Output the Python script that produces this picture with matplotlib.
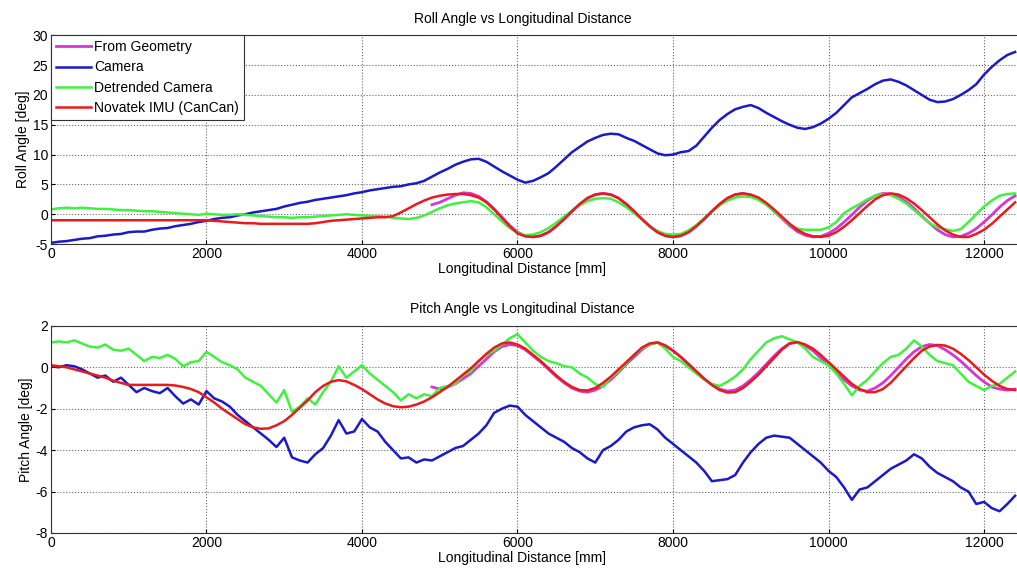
import matplotlib
matplotlib.use("Agg")
import matplotlib.pyplot as plt
import numpy as np

plt.rcParams['font.family'] = ['Liberation Sans', 'DejaVu Sans']
plt.rcParams['axes.unicode_minus'] = False

# distance grid (mm) for the sampled curves
distance = np.arange(0, 12500, 100)
distance_geom = np.arange(4900, 12500, 100)

# ---- Roll angle [deg] ----
roll_camera = [
    -4.8, -4.6, -4.5, -4.3, -4.1, -4.0, -3.7, -3.6, -3.4, -3.3,
    -3.0, -2.9, -2.9, -2.6, -2.4, -2.3, -2.0, -1.8, -1.6, -1.3,
    -1.1, -0.8, -0.6, -0.5, -0.2, 0.0, 0.3, 0.5, 0.7, 0.9,
    1.3, 1.6, 1.9, 2.1, 2.4, 2.6, 2.8, 3.0, 3.2, 3.5,
    3.7, 4.0, 4.2, 4.4, 4.6, 4.7, 5.0, 5.2, 5.6, 6.3,
    7.0, 7.6, 8.3, 8.8, 9.2, 9.3, 8.8, 8.0, 7.2, 6.5,
    5.8, 5.3, 5.6, 6.2, 6.9, 8.0, 9.2, 10.4, 11.3, 12.2,
    12.8, 13.3, 13.5, 13.4, 12.8, 12.3, 11.6, 10.9, 10.2, 9.9,
    10.0, 10.4, 10.6, 11.5, 13.0, 14.5, 15.8, 16.8, 17.6, 18.0,
    18.3, 17.8, 17.0, 16.3, 15.6, 15.0, 14.5, 14.3, 14.6, 15.2,
    16.0, 17.0, 18.3, 19.6, 20.3, 21.0, 21.8, 22.4, 22.6, 22.2,
    21.6, 20.8, 20.0, 19.2, 18.8, 18.9, 19.3, 20.0, 20.8, 21.8,
    23.4, 24.7, 25.8, 26.7, 27.2]
roll_detrended = [
    0.8, 1.0, 1.1, 1.0, 1.1, 1.0, 0.9, 0.9, 0.8, 0.7,
    0.7, 0.6, 0.5, 0.5, 0.4, 0.3, 0.2, 0.1, 0.0, -0.1,
    0.1, 0.0, -0.1, -0.1, 0.0, -0.1, -0.2, -0.3, -0.4, -0.5,
    -0.5, -0.6, -0.5, -0.5, -0.4, -0.3, -0.2, -0.1, 0.0, -0.1,
    -0.2, -0.3, -0.3, -0.4, -0.6, -0.7, -0.8, -0.6, -0.2, 0.4,
    1.0, 1.5, 1.8, 2.0, 2.2, 2.0, 1.2, 0.0, -1.2, -2.3,
    -3.1, -3.5, -3.4, -3.0, -2.3, -1.4, -0.4, 0.6, 1.5, 2.2,
    2.6, 2.7, 2.6, 2.0, 1.2, 0.2, -0.9, -2.0, -2.8, -3.3,
    -3.4, -3.3, -2.7, -1.8, -0.7, 0.4, 1.5, 2.3, 2.8, 3.0,
    2.9, 2.4, 1.6, 0.5, -0.6, -1.7, -2.4, -2.6, -2.6, -2.6,
    -2.2, -1.3, 0.2, 1.0, 1.7, 2.5, 3.1, 3.4, 3.2, 2.6,
    1.8, 0.7, -0.4, -1.5, -2.2, -2.5, -2.8, -2.5, -1.3, 0.0,
    1.3, 2.3, 3.1, 3.4, 3.5]
roll_imu = [
    -1.0, -1.0, -1.0, -1.0, -1.0, -1.0, -1.0, -1.0, -1.0, -1.0,
    -1.0, -1.0, -1.0, -1.0, -1.0, -1.0, -1.0, -1.0, -1.0, -1.0,
    -1.0, -1.1, -1.2, -1.3, -1.4, -1.5, -1.5, -1.6, -1.6, -1.6,
    -1.6, -1.6, -1.6, -1.6, -1.5, -1.3, -1.1, -1.0, -0.9, -0.8,
    -0.7, -0.6, -0.5, -0.5, -0.3, 0.3, 1.0, 1.7, 2.3, 2.8,
    3.1, 3.3, 3.4, 3.4, 3.2, 2.8, 2.0, 0.8, -0.6, -2.0,
    -3.2, -3.7, -3.8, -3.6, -3.0, -2.0, -0.8, 0.5, 1.7, 2.7,
    3.3, 3.5, 3.3, 2.7, 1.7, 0.5, -0.8, -2.0, -3.0, -3.6,
    -3.8, -3.6, -3.0, -2.0, -0.8, 0.5, 1.7, 2.7, 3.3, 3.5,
    3.3, 2.8, 1.9, 0.8, -0.4, -1.6, -2.6, -3.3, -3.7, -3.8,
    -3.6, -3.0, -2.1, -1.0, 0.2, 1.4, 2.5, 3.2, 3.5, 3.3,
    2.7, 1.8, 0.7, -0.5, -1.7, -2.7, -3.4, -3.8, -3.8, -3.3,
    -2.6, -1.6, -0.4, 0.8, 2.0]
roll_geometry = [
    1.6, 2.0, 2.6, 3.2, 3.6, 3.5, 3.0, 2.1, 0.9, -0.5,
    -1.9, -3.0, -3.6, -3.8, -3.6, -3.0, -2.0, -0.8, 0.5, 1.7,
    2.7, 3.3, 3.5, 3.3, 2.7, 1.7, 0.5, -0.8, -2.0, -3.0,
    -3.6, -3.8, -3.6, -3.0, -2.0, -0.8, 0.5, 1.7, 2.7, 3.3,
    3.5, 3.2, 2.6, 1.7, 0.5, -0.7, -1.9, -2.9, -3.5, -3.8,
    -3.7, -3.2, -2.4, -1.3, -0.1, 1.2, 2.3, 3.1, 3.5, 3.4,
    2.9, 2.1, 1.0, -0.3, -1.5, -2.6, -3.4, -3.8, -3.7, -3.2,
    -2.4, -1.3, -0.1, 1.2, 2.3, 3.1]

# ---- Pitch angle [deg] ----
pitch_camera = [
    0.05, 0.0, 0.1, 0.05, -0.1, -0.3, -0.5, -0.4, -0.7, -0.5,
    -0.85, -1.2, -1.0, -1.15, -1.25, -1.0, -1.4, -1.75, -1.55, -1.8,
    -1.15, -1.5, -1.65, -1.9, -2.3, -2.6, -2.9, -3.2, -3.5, -3.85,
    -3.4, -4.35, -4.5, -4.6, -4.2, -3.9, -3.3, -2.55, -3.2, -3.1,
    -2.5, -2.9, -3.1, -3.6, -4.0, -4.4, -4.35, -4.6, -4.45, -4.5,
    -4.3, -4.1, -3.9, -3.8, -3.5, -3.2, -2.8, -2.2, -2.0, -1.85,
    -1.9, -2.3, -2.6, -2.9, -3.2, -3.4, -3.6, -3.9, -4.1, -4.4,
    -4.6, -4.0, -3.8, -3.5, -3.1, -2.9, -2.8, -2.75, -3.0, -3.4,
    -3.7, -4.0, -4.3, -4.6, -5.0, -5.5, -5.45, -5.4, -5.2, -4.6,
    -4.1, -3.7, -3.4, -3.3, -3.35, -3.4, -3.7, -4.0, -4.3, -4.6,
    -5.0, -5.3, -5.8, -6.4, -5.9, -5.8, -5.5, -5.2, -4.9, -4.7,
    -4.5, -4.2, -4.4, -4.8, -5.1, -5.3, -5.5, -5.8, -6.0, -6.6,
    -6.5, -6.8, -6.95, -6.6, -6.2]
pitch_detrended = [
    1.2, 1.25, 1.2, 1.3, 1.15, 1.0, 0.95, 1.1, 0.85, 0.8,
    0.9, 0.6, 0.3, 0.5, 0.45, 0.6, 0.4, 0.05, 0.25, 0.3,
    0.75, 0.5, 0.25, 0.1, -0.1, -0.5, -0.7, -0.9, -1.3, -1.7,
    -1.1, -2.15, -1.9, -1.5, -1.8, -1.2, -0.7, 0.05, -0.5, -0.2,
    0.1, -0.3, -0.6, -0.9, -1.2, -1.6, -1.3, -1.5, -1.3, -1.4,
    -1.0, -0.9, -0.8, -0.4, -0.2, 0.3, 0.6, 0.8, 1.1, 1.4,
    1.6, 1.2, 0.8, 0.5, 0.3, 0.2, 0.05, 0.0, -0.3, -0.5,
    -0.8, -0.95, -0.5, -0.2, 0.2, 0.6, 0.9, 1.1, 1.2, 0.9,
    0.5, 0.3, 0.0, -0.3, -0.6, -0.8, -0.9, -0.7, -0.45, -0.1,
    0.4, 0.8, 1.2, 1.4, 1.5, 1.35, 1.2, 0.9, 0.5, 0.3,
    0.1, -0.3, -0.8, -1.35, -0.9, -0.6, -0.2, 0.2, 0.5, 0.6,
    0.9, 1.3, 1.0, 0.6, 0.3, 0.2, 0.1, -0.3, -0.7, -0.9,
    -1.1, -0.9, -0.8, -0.5, -0.2]
pitch_imu = [
    0.1, 0.05, 0.0, -0.1, -0.2, -0.3, -0.4, -0.5, -0.65, -0.75,
    -0.85, -0.85, -0.85, -0.85, -0.85, -0.85, -0.88, -0.95, -1.05, -1.2,
    -1.45, -1.7, -2.0, -2.25, -2.5, -2.75, -2.9, -2.97, -2.95, -2.8,
    -2.6, -2.3, -1.95, -1.6, -1.2, -0.9, -0.7, -0.62, -0.68, -0.85,
    -1.05, -1.3, -1.55, -1.75, -1.88, -1.93, -1.9, -1.8, -1.65, -1.45,
    -1.2, -0.95, -0.65, -0.35, -0.05, 0.3, 0.65, 0.95, 1.15, 1.2,
    1.1, 0.9, 0.6, 0.3, -0.05, -0.4, -0.7, -0.95, -1.1, -1.12,
    -1.0, -0.75, -0.45, -0.1, 0.25, 0.6, 0.95, 1.15, 1.2, 1.05,
    0.8, 0.5, 0.15, -0.2, -0.55, -0.85, -1.1, -1.22, -1.2, -1.0,
    -0.7, -0.35, 0.05, 0.45, 0.85, 1.15, 1.22, 1.1, 0.9, 0.6,
    0.25, -0.1, -0.45, -0.8, -1.05, -1.2, -1.2, -1.05, -0.75, -0.35,
    0.05, 0.45, 0.8, 1.0, 1.08, 1.05, 0.9, 0.65, 0.35, 0.0,
    -0.35, -0.65, -0.9, -1.05, -1.1]
pitch_geometry = [
    -0.95, -1.05, -0.95, -0.8, -0.55, -0.3, 0.05, 0.4, 0.75, 1.0,
    1.1, 1.05, 0.85, 0.55, 0.25, -0.1, -0.45, -0.75, -1.0, -1.15,
    -1.2, -1.1, -0.9, -0.6, -0.25, 0.15, 0.5, 0.85, 1.1, 1.2,
    1.05, 0.8, 0.5, 0.15, -0.2, -0.55, -0.85, -1.05, -1.15, -1.1,
    -0.9, -0.6, -0.25, 0.15, 0.55, 0.9, 1.15, 1.2, 1.05, 0.8,
    0.45, 0.1, -0.25, -0.6, -0.9, -1.1, -1.15, -1.0, -0.75, -0.4,
    0.0, 0.4, 0.75, 1.0, 1.1, 1.05, 0.85, 0.6, 0.3, -0.05,
    -0.4, -0.7, -0.95, -1.05, -1.1, -1.05]

legend_labels = ['From Geometry', 'Camera', 'Detrended Camera', 'Novatek IMU (CanCan)']
col_geom = (0.85, 0.2, 0.85)
col_cam = (0.1, 0.1, 0.8)
col_det = (0.25, 0.95, 0.25)
col_imu = (0.92, 0.1, 0.1)
fs = 10

fig = plt.figure(figsize=(10.17, 5.69), dpi=100)
ax1 = fig.add_axes([0.0501, 0.571, 0.9557, 0.367])
ax2 = fig.add_axes([0.0501, 0.0633, 0.9557, 0.364])

def style(ax, yticks, title, ylabel):
    ax.set_xlim(0, 12500)
    ax.set_ylim(yticks[0], yticks[-1])
    ax.set_xticks([0, 2000, 4000, 6000, 8000, 10000, 12000])
    ax.set_yticks(yticks)
    ax.grid(True, linestyle=':', color='#666666', linewidth=0.8)
    ax.tick_params(direction='in', labelsize=fs, length=3, pad=2)
    for s in ax.spines.values():
        s.set_color('#333333')
    ax.set_title(title, fontsize=fs, x=0.485, pad=9)
    ax.set_xlabel('Longitudinal Distance [mm]', fontsize=fs, labelpad=1, x=0.485)
    ax.set_ylabel(ylabel, fontsize=fs, labelpad=2)

ax1.plot(distance_geom, roll_geometry, color=col_geom, lw=2, label=legend_labels[0])
ax1.plot(distance, roll_camera, color=col_cam, lw=1.8, label=legend_labels[1])
ax1.plot(distance, roll_detrended, color=col_det, lw=1.8, label=legend_labels[2])
ax1.plot(distance, roll_imu, color=col_imu, lw=1.8, label=legend_labels[3])
style(ax1, [-5, 0, 5, 10, 15, 20, 25, 30], 'Roll Angle vs Longitudinal Distance', 'Roll Angle [deg]')
leg = ax1.legend(loc='upper left', fontsize=fs, borderaxespad=0, fancybox=False,
                 edgecolor='#333333', framealpha=1, handlelength=2.5, labelspacing=0.45,
                 borderpad=0.35, handletextpad=0.25)
leg.get_frame().set_linewidth(0.8)

ax2.plot(distance_geom, pitch_geometry, color=col_geom, lw=2)
ax2.plot(distance, pitch_camera, color=col_cam, lw=1.8)
ax2.plot(distance, pitch_detrended, color=col_det, lw=1.8)
ax2.plot(distance, pitch_imu, color=col_imu, lw=1.8)
style(ax2, [-8, -6, -4, -2, 0, 2], 'Pitch Angle vs Longitudinal Distance', 'Pitch Angle [deg]')

fig.savefig('out.png', dpi=100)
